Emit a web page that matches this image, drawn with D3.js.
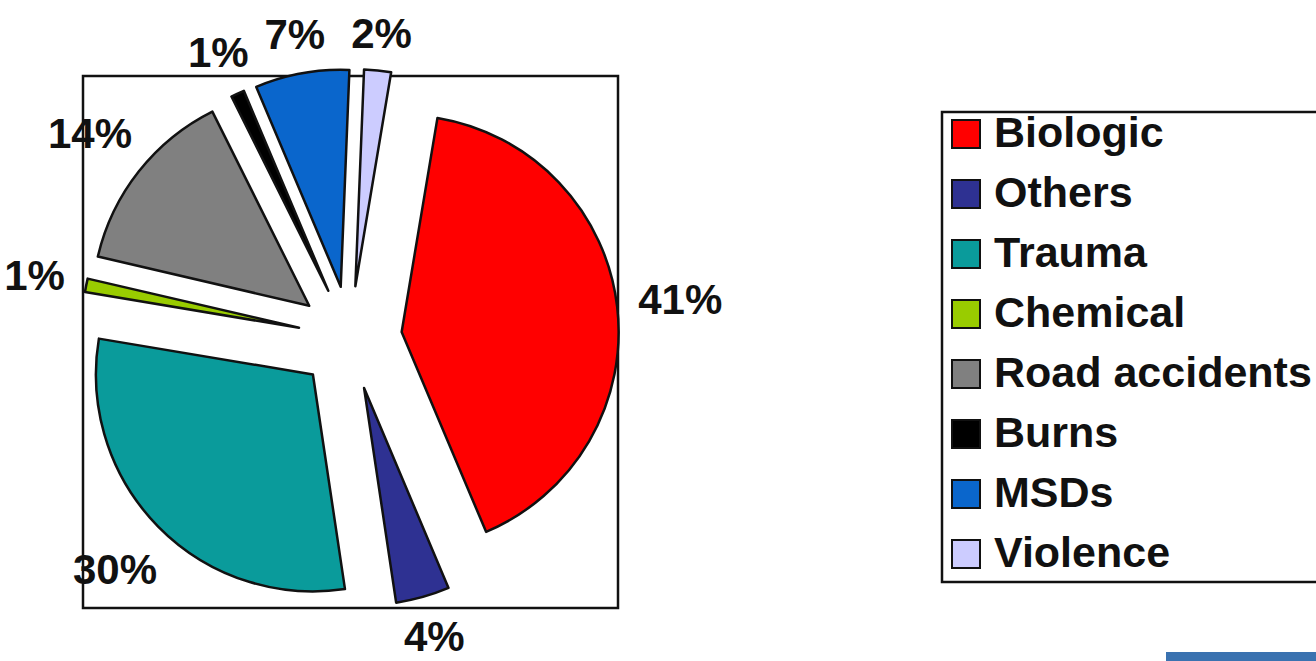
<!DOCTYPE html>
<html>
<head>
<meta charset="utf-8">
<script src="https://cdn.jsdelivr.net/npm/d3@7"></script>
<style>
  html, body { margin: 0; padding: 0; background: #ffffff; }
  svg { display: block; }
  text { font-family: "Liberation Sans", Arial, sans-serif; font-weight: bold; fill: #111; }
</style>
</head>
<body>
<svg id="chart" width="1316" height="661"></svg>
<script>
// ---- data ----
const categories = ["Biologic", "Others", "Trauma", "Chemical", "Road accidents", "Burns", "MSDs", "Violence"];
const values = [41, 4, 30, 1, 14, 1, 7, 2];
const colors = ["#ff0000", "#2e3192", "#0a9b9b", "#99cc00", "#808080", "#000000", "#0a66cc", "#ccccff"];

// ---- layout ----
const svg = d3.select("#chart");
const W = 1316, H = 661;
const plot = { x: 83, y: 76, w: 535, h: 532 };
const cx = 350, cy = 338, radius = 217, explode = 52;
const startDeg = 9.5;

// plot-area border
svg.append("rect")
  .attr("x", plot.x).attr("y", plot.y)
  .attr("width", plot.w).attr("height", plot.h)
  .attr("fill", "none").attr("stroke", "#111").attr("stroke-width", 2.5);

const data = categories.map((c, i) => ({ name: c, value: values[i], color: colors[i] }));

const start = startDeg * Math.PI / 180;
const pie = d3.pie().value(d => d.value).sort(null)
  .startAngle(start).endAngle(start + 2 * Math.PI);
const arcs = pie(data);
const arc = d3.arc().innerRadius(0).outerRadius(radius);

const g = svg.append("g").attr("transform", `translate(${cx},${cy})`);

g.selectAll("path.slice")
  .data(arcs)
  .join("path")
  .attr("class", "slice")
  .attr("d", arc)
  .attr("fill", d => d.data.color)
  .attr("stroke", "#111")
  .attr("stroke-width", 2.5)
  .attr("stroke-linejoin", "round")
  .attr("transform", d => {
    const m = (d.startAngle + d.endAngle) / 2;
    return `translate(${explode * Math.sin(m)},${-explode * Math.cos(m)})`;
  });

// data labels, outside end of each exploded slice
const fontSize = 42;
const pad = 20;
g.selectAll("text.lbl")
  .data(arcs)
  .join("text")
  .attr("class", "lbl")
  .attr("font-size", fontSize)
  .attr("text-anchor", "middle")
  .text(d => d.data.value + "%")
  .each(function (d) {
    const m = (d.startAngle + d.endAngle) / 2;
    const ux = Math.sin(m), uy = -Math.cos(m);
    const hw = this.getComputedTextLength() / 2;
    const hh = 15;
    const ext = Math.abs(ux) * hw + Math.abs(uy) * hh;
    const dist = radius + explode + pad + ext;
    // keep the baseline inside the picture
    const yBase = Math.min(uy * dist + hh, H - 10 - cy);
    d3.select(this)
      .attr("x", ux * dist)
      .attr("y", yBase);
  });

// ---- legend ----
const leg = { x: 942, y: 112, w: 400, h: 470 };
svg.append("rect")
  .attr("x", leg.x).attr("y", leg.y)
  .attr("width", leg.w).attr("height", leg.h)
  .attr("fill", "#fff").attr("stroke", "#111").attr("stroke-width", 2.5);

const rowY = d3.scalePoint().domain(categories).range([134, 554]);
const legRows = svg.append("g").selectAll("g")
  .data(data)
  .join("g")
  .attr("transform", d => `translate(${leg.x},${rowY(d.name)})`);

legRows.append("rect")
  .attr("x", 10).attr("y", -14)
  .attr("width", 28).attr("height", 28)
  .attr("fill", d => d.color)
  .attr("stroke", "#111").attr("stroke-width", 2);

legRows.append("text")
  .attr("x", 52).attr("y", 13)
  .attr("font-size", 43)
  .text(d => d.name);

// decorative fragment at bottom-right of the source image
svg.append("rect")
  .attr("x", 1166).attr("y", 652)
  .attr("width", 150).attr("height", 9)
  .attr("fill", "#3a72b0");
</script>
</body>
</html>
